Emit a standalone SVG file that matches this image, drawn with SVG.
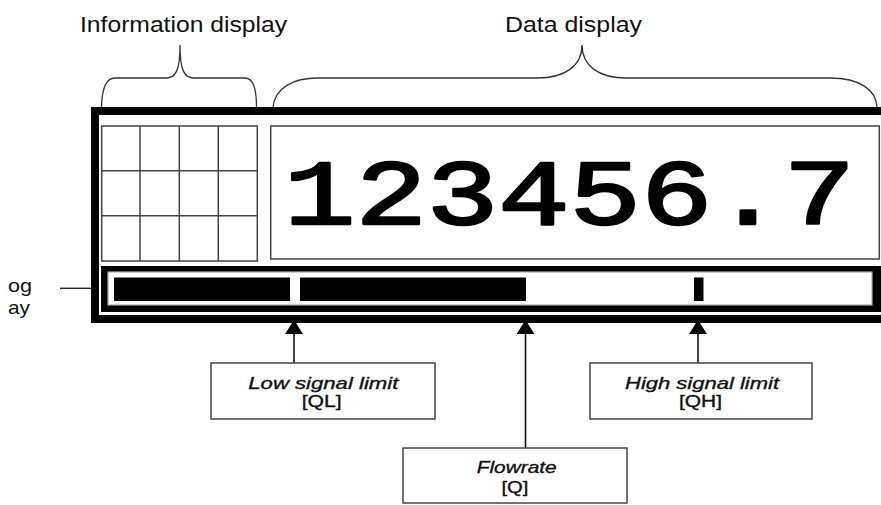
<svg xmlns="http://www.w3.org/2000/svg" width="881" height="505" viewBox="0 0 881 505">
<style>
.hdr{font-family:"Liberation Sans",Arial,sans-serif;font-size:22px;fill:#111}
.side{font-family:"Liberation Sans",Arial,sans-serif;font-size:19px;fill:#111}
.lbl{font-family:"Liberation Sans",Arial,sans-serif;font-size:17px;fill:#111;stroke:#111;stroke-width:0.35;text-anchor:middle}
.it{font-style:italic}
.brace{fill:none;stroke:#333;stroke-width:1.3}
.thin{fill:#fff;stroke:#444;stroke-width:1.5}
.box{fill:#fff;stroke:#444;stroke-width:1.5}
.conn{stroke:#111;stroke-width:1.6;fill:none}
.digits{font-family:"Liberation Mono","Courier New",monospace;font-weight:normal;font-size:92px;fill:#000;stroke:#000;stroke-width:2.5;stroke-linejoin:round}
</style>
<defs>
<marker id="ah" markerUnits="userSpaceOnUse" markerWidth="14" markerHeight="18" viewBox="0 0 14 18" refX="13" refY="9" orient="auto">
<path d="M0,0 L14,9 L0,18 z" fill="#000"/>
</marker>
</defs>

<g id="information-display-label">
<text class="hdr" x="80" y="31.5" textLength="207" lengthAdjust="spacingAndGlyphs">Information display</text>
<path class="brace" d="M101.5,107 C102,88 106,78 115,78 L166,78 C176,78 180,70 180,45 C180,70 184,78 194,78 L245,78 C253,78 256.5,90 256.5,107"/>
</g>

<g id="data-display-label">
<text class="hdr" x="505" y="31.5" textLength="137" lengthAdjust="spacingAndGlyphs">Data display</text>
<path class="brace" d="M273,107 C275,88 293,78 318,78 L537,78 C565,78 582,66 582,45 C582,66 599,78 626,78 L830,78 C860,78 876,90 877,107"/>
</g>

<g id="bargraph-label">
<text class="side" x="8" y="291.5" textLength="24" lengthAdjust="spacingAndGlyphs">og</text>
<text class="side" x="8" y="313.5" textLength="22" lengthAdjust="spacingAndGlyphs">ay</text>
<line x1="60" y1="288.3" x2="91" y2="288.3" stroke="#222" stroke-width="1.4"/>
</g>

<g id="display-frame">
<rect x="95" y="111" width="800" height="208" fill="#fff" stroke="#000" stroke-width="8"/>
</g>

<g id="information-grid">
<rect class="thin" x="101.7" y="126" width="155.6" height="135"/>
<path d="M140,126 V261 M179.3,126 V261 M218.3,126 V261 M101.7,170.7 H257.3 M101.7,215.7 H257.3" stroke="#444" stroke-width="1.5" fill="none"/>
</g>

<g id="data-box">
<rect class="thin" x="270.7" y="126" width="608.6" height="133"/>
<text class="digits" x="284" y="224" textLength="571" lengthAdjust="spacingAndGlyphs">123456.7</text>
</g>

<g id="bargraph">
<rect x="101" y="266" width="790" height="46" fill="#000"/>
<rect x="108" y="272" width="764" height="33" fill="#fff" stroke="#aaa" stroke-width="1.2"/>
<rect x="114" y="277.5" width="176" height="23.5" fill="#000"/>
<rect x="300" y="277.5" width="226" height="23.5" fill="#000"/>
<rect x="694" y="277.5" width="9.5" height="23.5" fill="#000"/>
</g>

<g id="connectors">
<line class="conn" x1="294" y1="363" x2="294" y2="321" marker-end="url(#ah)"/>
<line class="conn" x1="525.5" y1="448" x2="525.5" y2="321" marker-end="url(#ah)"/>
<line class="conn" x1="698" y1="363" x2="698" y2="321" marker-end="url(#ah)"/>
</g>

<g id="low-signal-limit">
<rect class="box" x="211" y="363" width="224" height="56"/>
<text class="lbl it" x="323.3" y="388.5" textLength="150" lengthAdjust="spacingAndGlyphs">Low signal limit</text>
<text class="lbl" x="321.7" y="406.5" textLength="40" lengthAdjust="spacingAndGlyphs">[QL]</text>
</g>

<g id="flowrate">
<rect class="box" x="403" y="448" width="224" height="55"/>
<text class="lbl it" x="516.7" y="473.3" textLength="80" lengthAdjust="spacingAndGlyphs">Flowrate</text>
<text class="lbl" x="515" y="493.3" textLength="27" lengthAdjust="spacingAndGlyphs">[Q]</text>
</g>

<g id="high-signal-limit">
<rect class="box" x="590" y="363" width="222" height="56"/>
<text class="lbl it" x="702" y="388.5" textLength="154" lengthAdjust="spacingAndGlyphs">High signal limit</text>
<text class="lbl" x="700.5" y="406.5" textLength="43" lengthAdjust="spacingAndGlyphs">[QH]</text>
</g>
</svg>
